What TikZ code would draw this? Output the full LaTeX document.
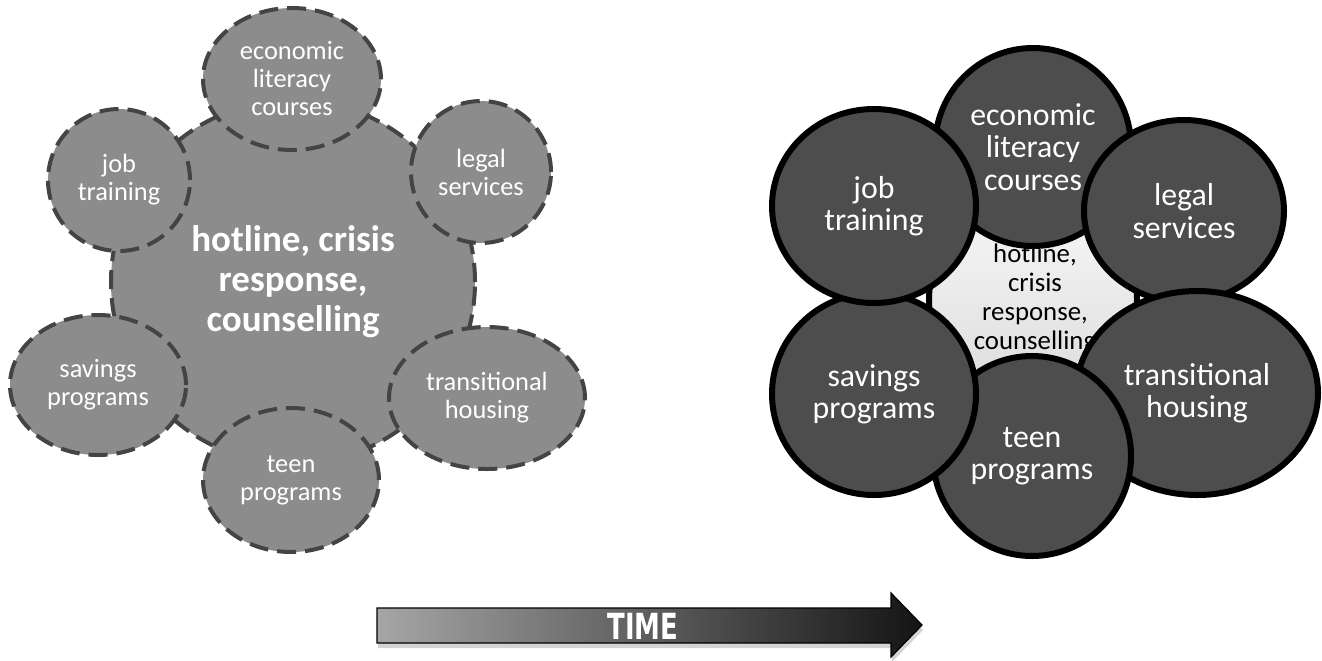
\documentclass[tikz,border=0pt]{standalone}
\usepackage{fontspec}
\setmainfont{Carlito}
\newfontfamily\timefont{DejaVu Sans}
\usetikzlibrary{shapes.geometric,shadows}
\definecolor{softfill}{HTML}{8C8C8C}
\definecolor{dashcol}{HTML}{444444}
\definecolor{darkfill}{HTML}{4D4D4D}
\tikzset{
  softbub/.style={ellipse, draw=dashcol, fill=softfill, line width=2pt,
    dash pattern=on 9.5pt off 4.5pt, inner sep=0pt, align=center,
    text=white, font=\fontsize{13.2}{14}\selectfont},
  hardbub/.style={ellipse, draw=black, fill=darkfill, line width=3pt,
    inner sep=0pt, align=center, text=white,
    font=\fontsize{15.9}{16.2}\selectfont},
}
\begin{document}
\begin{tikzpicture}[x=0.5pt,y=-0.5pt]
\useasboundingbox (0,0) rectangle (1322,660);

% ---- before: loose dashed cluster ----
\node[softbub, minimum width=182pt, minimum height=182pt] (lc) at (293,282) {};
\node[text=white, align=center, inner sep=0pt,
      font=\bfseries\fontsize{18.5}{20}\selectfont] (lct) at (293,282)
      {hotline, crisis\\response,\\counselling};
\node[softbub, minimum width=89pt, minimum height=71pt] (lecon) at (292,79) {economic\\literacy\\courses};
\node[softbub, minimum width=71pt, minimum height=71pt] (ljob) at (119,180) {job\\training};
\node[softbub, minimum width=70pt, minimum height=71pt] (llegal) at (481,172) {legal\\services};
\node[softbub, minimum width=88pt, minimum height=70pt] (lsave) at (98,385) {savings\\programs};
\node[softbub, minimum width=98pt, minimum height=71pt] (ltrans) at (487,398) {transitional\\housing};
\node[softbub, minimum width=88pt, minimum height=72pt] (lteen) at (291,480) {teen\\programs};

% ---- after: tight solid cluster ----
\node[circle, draw=black, line width=3pt, top color=gray!6, bottom color=gray!28,
      minimum size=104pt, inner sep=0pt] (rc) at (1033,300) {};
\node[align=center, font=\fontsize{13.4}{14.5}\selectfont] (rct) at (1035,299)
      {hotline,\\crisis\\response,\\counselling};
\node[hardbub, minimum width=98pt, minimum height=99pt] (recon) at (1033,147) {economic\\literacy\\courses};
\node[hardbub, minimum width=100pt, minimum height=91pt] (rlegal) at (1184,211) {legal\\services};
\node[hardbub, minimum width=121pt, minimum height=102pt] (rtrans) at (1197,393) {transitional\\housing};
\node[hardbub, minimum width=99pt, minimum height=100pt] (rteen) at (1032,456) {teen\\programs};
\node[hardbub, minimum width=102pt, minimum height=101pt] (rsave) at (874,394) {savings\\programs};
\node[hardbub, minimum width=102pt, minimum height=97pt] (rjob) at (874,206) {job\\training};

% ---- time arrow ----
\coordinate (tb) at (922,625);
\path[left color=gray!70, right color=black!92, draw=black, line width=0.6pt,
      drop shadow={shadow xshift=0.5pt, shadow yshift=-2.5pt, opacity=0.35}]
  (377,608) -- (891,608) -- (891,593) -- (tb) -- (891,657) -- (891,643)
  -- (377,643) -- cycle;
\node[text=white, font=\timefont\bfseries\fontsize{18}{18}\selectfont,
      xscale=0.72, inner sep=0pt] (tl) at (643,626) {TIME};
\end{tikzpicture}
\end{document}
